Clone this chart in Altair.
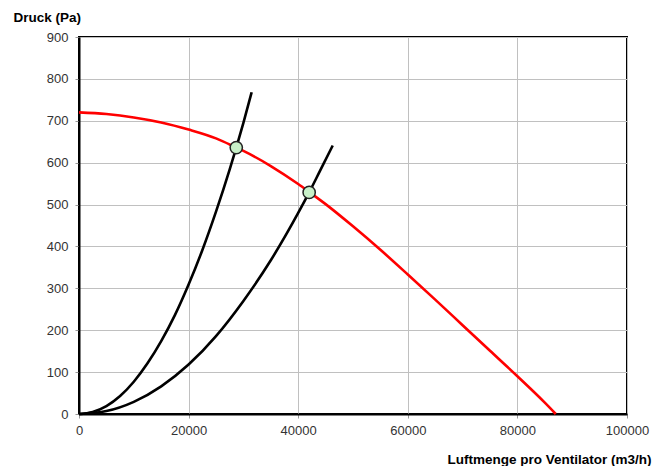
import altair as alt
import pandas as pd

# Fan curve (red)
fan_x = [0, 5000, 10000, 15000, 20000, 25000, 28700, 30000, 35000, 40000, 42000, 45000,
         50000, 55000, 60000, 65000, 70000, 75000, 80000, 85000, 87000]
fan_y = [720, 716, 708, 696, 679, 658, 636, 628, 592, 549, 530, 501,
         448, 392, 333, 273, 212, 151, 90, 27, 0]

# System curve 1 (black)
sys1_x = [0, 2500, 5000, 7500, 10000, 12500, 15000, 17500, 20000, 22500, 25000,
          27500, 28700, 30000, 31500]
sys1_y = [0, 5, 19, 43, 77, 121, 174, 236, 309, 391, 483, 584, 636, 695, 768]

# System curve 2 (black)
sys2_x = [0, 5000, 10000, 15000, 20000, 25000, 30000, 35000, 40000, 42000, 44000, 46300]
sys2_y = [0, 7, 29, 66, 118, 186, 270, 367, 480, 529, 581, 641]

# Operating points
op_x = [28700, 42000]
op_y = [636, 529]

fan = pd.DataFrame({"x": fan_x, "y": fan_y, "order": list(range(len(fan_x)))})
sys_df = pd.concat([
    pd.DataFrame({"x": sys1_x, "y": sys1_y, "s": "A", "order": list(range(len(sys1_x)))}),
    pd.DataFrame({"x": sys2_x, "y": sys2_y, "s": "B", "order": list(range(len(sys2_x)))}),
])
ops = pd.DataFrame({"x": op_x, "y": op_y})

xscale = alt.Scale(domain=[0, 100000], nice=False)
yscale = alt.Scale(domain=[0, 900], nice=False)

xaxis = alt.Axis(
    title="Luftmenge pro Ventilator (m3/h)", values=list(range(0, 100001, 20000)),
    format="d", titleAngle=0, titleAlign="right", titleBaseline="middle",
    titleX=572, titleY=45, titleFontWeight="bold", titleFontSize=13.5,
    labelPadding=6, labelFlush=False,
)
yaxis = alt.Axis(
    title="Druck (Pa)", values=list(range(0, 901, 100)), titleAngle=0,
    titleAlign="left", titleBaseline="middle", titleX=-66, titleY=-20,
    titleFontWeight="bold", titleFontSize=13.5, labelPadding=7, labelFlush=False,
)

base_x = alt.X("x:Q", scale=xscale, axis=xaxis)
base_y = alt.Y("y:Q", scale=yscale, axis=yaxis)

sys_lines = alt.Chart(sys_df).mark_line(color="black", strokeWidth=2.6, interpolate="monotone").encode(
    x=base_x, y=base_y, detail="s:N", order="order:Q"
)
fan_line = alt.Chart(fan).mark_line(color="#ff0000", strokeWidth=2.6, interpolate="monotone").encode(
    x=base_x, y=base_y, order="order:Q"
)
pts = alt.Chart(ops).mark_point(
    filled=True, fill="#c8f0c8", stroke="#222222", strokeWidth=1.5, size=150, opacity=1
).encode(x=base_x, y=base_y)

chart = alt.layer(sys_lines, fan_line, pts).properties(
    width=548, height=377,
    autosize=alt.AutoSizeParams(type="none"),
    padding={"left": 79, "top": 37, "right": 38, "bottom": 52},
    background="white",
).configure_view(
    stroke="black", strokeWidth=2
).configure_axis(
    labelFont="Liberation Sans", titleFont="Liberation Sans",
    labelFontSize=13, labelColor="#333333", titleColor="black",
    gridColor="#c0c0c0", gridWidth=1, domainColor="black", domainWidth=2,
    tickColor="#999999", tickSize=4,
)

chart.save("out.html", embed_options={"renderer": "svg", "actions": False})
